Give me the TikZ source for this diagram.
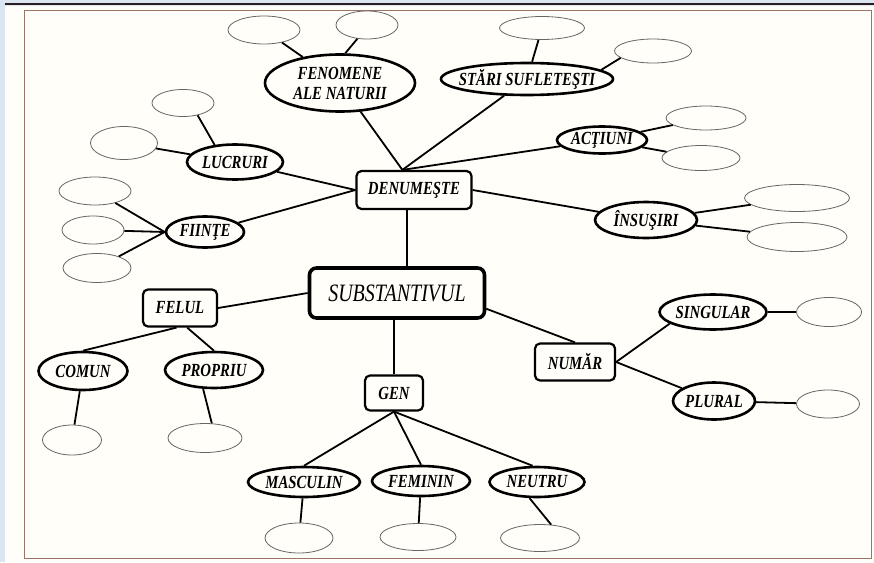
\documentclass[tikz,border=0pt]{standalone}
\usepackage{fontspec}
\setmainfont{Liberation Serif}
\newfontfamily\lblfont{Liberation Serif}[FakeStretch=0.8]
\usepackage{xcolor}
\usetikzlibrary{shapes.geometric}
\definecolor{pagebg}{HTML}{DCE6F2}
\definecolor{topbar}{HTML}{2B1E22}
\definecolor{framebrown}{HTML}{9C7468}
\definecolor{panelcream}{HTML}{FFFEF8}

\begin{document}
\begin{tikzpicture}[x=1pt, y=-1pt,
    every node/.style={font=\lblfont\fontsize{18.5}{20}\selectfont\bfseries\itshape, inner sep=0pt},
    root/.style={rectangle, rounded corners=7pt, draw, line width=3.6pt, minimum width=175pt, minimum height=50pt, font=\lblfont\fontsize{25}{25}\selectfont\itshape},
    cat/.style={rectangle, rounded corners=5pt, draw, line width=2.2pt, minimum height=37pt},
    item/.style={ellipse, draw, line width=2.6pt, inner xsep=-14pt, inner ysep=-2pt, align=center},
    blank/.style={ellipse, draw=black!60, line width=0.8pt},
    link/.style={draw, line width=1.8pt}
]
\useasboundingbox (0,0) rectangle (874,562);
% page and frame
\fill[pagebg] (0,0) rectangle (874,562);
\fill[panelcream] (5,6) rectangle (874,562);
\draw[topbar, line width=2.5pt] (5,4) -- (874,4);
\draw[framebrown, line width=1pt] (24,10) rectangle (871,558);

% boxes
\node[root] (subst) at (397,293) {SUBSTANTIVUL};
\node[cat, minimum width=115pt, minimum height=38pt] (den) at (414,190) {DENUMEŞTE};
\node[cat, minimum width=74pt] (fel) at (180,308) {FELUL};
\node[cat, minimum width=58pt, minimum height=35pt] (gen) at (394,393) {GEN};
\node[cat, minimum width=80pt] (num) at (575,362) {NUMĂR};

% labelled ellipses
\node[item, minimum width=150pt, minimum height=57pt] (fen) at (340,83) {FENOMENE\\ALE NATURII};
\node[item, minimum width=172pt, minimum height=32pt] (star) at (527,79) {STĂRI SUFLETEŞTI};
\node[item, minimum width=90pt, minimum height=27pt] (act) at (602,140) {ACŢIUNI};
\node[item, minimum width=96pt, minimum height=35pt] (luc) at (235,162) {LUCRURI};
\node[item, minimum width=78pt, minimum height=31pt] (fii) at (205,232) {FIINŢE};
\node[item, minimum width=102pt, minimum height=36pt] (ins) at (646,220) {ÎNSUŞIRI};
\node[item, minimum width=89pt, minimum height=38pt] (com) at (83,371) {COMUN};
\node[item, minimum width=98pt, minimum height=36pt] (pro) at (214,370) {PROPRIU};
\node[item, minimum width=112pt, minimum height=30pt] (mas) at (304,482) {MASCULIN};
\node[item, minimum width=98pt, minimum height=30pt] (fem) at (421,481) {FEMININ};
\node[item, minimum width=95pt, minimum height=30pt] (neu) at (537,482) {NEUTRU};
\node[item, minimum width=107pt, minimum height=35pt] (sing) at (713,312) {SINGULAR};
\node[item, minimum width=82pt, minimum height=37pt] (plu) at (714,401) {PLURAL};

% empty ellipses
\foreach \n/\x/\y/\w/\h in {fenA/264/30/72/28, fenB/367/25/62/28, starA/542/28/85/23, starB/653/51/77/24,
    actA/706/118/80/24, actB/701/158/78/25, lucA/183/103/62/27, lucB/124/143/67/33,
    fiiA/95/191/72/28, fiiB/93/230/62/28, fiiC/97/268/68/29, insA/797/198/105/27, insB/797/237/100/29,
    singA/829/312/65/29, pluA/828/404/63/28, comA/72/440/59/30, proA/205/438/74/29,
    masA/299/538/68/30, femA/418/537/76/27, neuA/540/538/79/27}
  \node[blank, minimum width=\w pt, minimum height=\h pt] (\n) at (\x,\y) {};

% connectors
\draw[link] (den.250) -- (den.250 |- subst.north);
\draw[link] (fen) -- (den.120);
\draw[link] (star) -- (den.120);
\draw[link] (act) -- (den.120);
\draw[link] (luc) -- (den.west);
\draw[link] (fii) -- (den.west);
\draw[link] (den.east) -- (ins);
\draw[link] (fenA) -- (fen);
\draw[link] (fenB.235) -- (fen.80);
\draw[link] (starA) -- (star);
\draw[link] (starB.192) -- (star.7);
\draw[link] (actA) -- (act);
\draw[link] (actB) -- (act);
\draw[link] (lucA.320) -- (luc.140);
\draw[link] (lucB) -- (luc);
\draw[link] (fiiA) -- (fii.west);
\draw[link] (fiiB) -- (fii.west);
\draw[link] (fiiC) -- (fii.west);
\draw[link] (ins) -- (insA);
\draw[link] (ins) -- (insB);
\draw[link] (subst.west) -- (fel.east);
\draw[link] (gen.north |- subst.south) -- (gen.north);
\draw[link] (subst.-10) -- (num.north);
\draw[link] (fel.260) -- (com.north);
\draw[link] (fel.290) -- (pro.north);
\draw[link] (com) -- (comA);
\draw[link] (pro.240) -- (proA.65);
\draw[link] (gen.south) -- (mas.north);
\draw[link] (gen.south) -- (fem.north);
\draw[link] (gen.south) -- (neu.105);
\draw[link] (mas) -- (masA);
\draw[link] (fem) -- (femA);
\draw[link] (neu.245) -- (neuA.50);
\draw[link] (num.east) -- (sing.195);
\draw[link] (num.east) -- (plu);
\draw[link] (sing) -- (singA);
\draw[link] (plu) -- (pluA);
\end{tikzpicture}
\end{document}
